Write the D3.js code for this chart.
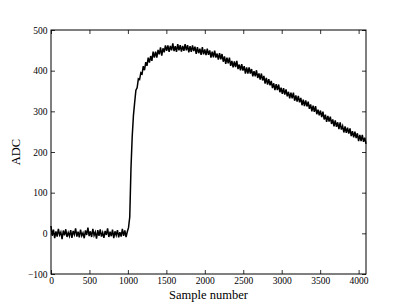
<!DOCTYPE html>
<html>
<head>
<meta charset="utf-8">
<script src="https://cdn.jsdelivr.net/npm/d3@7"></script>
<style>
  body { margin: 0; background: #fff; }
  text { font-family: "Liberation Serif", "DejaVu Serif", serif; }
</style>
</head>
<body>
<svg width="407" height="305"></svg>
<script>
// one value every 16 samples (0 .. 4096)
var sampleStep = 16
var baseline = [18,-6,9,-12,5,-8,11,-4,3,-14,7,-5,10,-9,2,-7,8,-11,6,-3,
  12,-8,4,-10,9,-6,1,-12,7,-4,14,-7,5,-9,11,-5,3,-13,8,-6,
  10,-8,2,-11,6,-4,12,-9,4,-7,9,-12,5,-5,8,-10,3,-8,11,-6,
  7,-9,4,14]
var rise = [40,160,238,290,322,352,358,380,378,395,392]
var plateau = [411,401,421,412,432,420,436,424,447,432,447,432,451,440,457,437,455,445,462,449,
  462,446,461,450,467,448,460,446,465,450,463,447,461,449,465,450,463,445,460,446,
  462,448,459,441,458,443,454,439,458,440,452,438,454,439,450,432,447,433,449,432,
  442,427]
var decay = [443,428,441,422,435,417,432,418,432,412,424,408,423,409,424,404,415,401,416,400,
  411,393,408,393,408,393,404,386,399,386,401,382,393,378,393,376,387,368,382,366,
  379,364,375,357,369,352,367,352,366,347,358,343,357,341,354,337,348,332,346,332,
  346,326,339,324,338,322,333,315,329,313,327,312,324,306,317,300,314,299,313,293,
  304,290,302,286,299,280,292,274,289,275,287,269,280,263,278,262,273,256,273,255,
  264,248,263,247,260,245,258,239,251,236,250,234,246,227,242,227,242,225,235,220]
var xTicks = [0,500,1000,1500,2000,2500,3000,3500,4000]
var yTicks = [-100,0,100,200,300,400,500]

var values = baseline.concat(rise, plateau, decay)
var data = values.map(function(v, i) { return [i*sampleStep, v] })

var svg = d3.select('svg')
var pLeft = 51, pTop = 30, pRight = 366, pBottom = 274

var x = d3.scaleLinear().domain([0, 4096]).range([pLeft, pRight])
var y = d3.scaleLinear().domain([-100, 500]).range([pBottom, pTop])

svg.append('rect').attr('width', 407).attr('height', 305).attr('fill', '#fff')

// the trace
var lineFunc = d3.line()
    .x(function(d) { return x(d[0]) })
    .y(function(d) { return y(d[1]) })
svg.append('path')
    .datum(data)
    .attr('d', lineFunc)
    .attr('fill', 'none')
    .attr('stroke', '#000')
    .attr('stroke-width', 1.5)

function fmt(v) { return v < 0 ? '\u2212' + (-v) : '' + v }

// axes, ticks pointing in, mirrored on top and right
var tl = 4
svg.append('g').attr('transform', 'translate(0,' + pBottom + ')')
    .call(d3.axisBottom(x).tickValues(xTicks).tickSize(-tl).tickPadding(3).tickFormat(fmt))
svg.append('g').attr('transform', 'translate(0,' + pTop + ')')
    .call(d3.axisTop(x).tickValues(xTicks).tickSize(-tl).tickFormat(''))
svg.append('g').attr('transform', 'translate(' + pLeft + ',0)')
    .call(d3.axisLeft(y).tickValues(yTicks).tickSize(-tl).tickPadding(3.5).tickFormat(fmt))
svg.append('g').attr('transform', 'translate(' + pRight + ',0)')
    .call(d3.axisRight(y).tickValues(yTicks).tickSize(-tl).tickFormat(''))

svg.selectAll('.domain').remove()
svg.selectAll('.tick line').attr('stroke', '#000').attr('stroke-width', 0.8)
svg.selectAll('.tick text').attr('fill', '#000').style('font-size', '9.5px')
    .style('font-family', '"Liberation Serif", serif')

svg.append('rect')
    .attr('x', pLeft).attr('y', pTop)
    .attr('width', pRight - pLeft).attr('height', pBottom - pTop)
    .attr('fill', 'none').attr('stroke', '#000').attr('stroke-width', 1)

svg.append('text')
    .attr('x', (pLeft + pRight) / 2).attr('y', 299)
    .attr('text-anchor', 'middle')
    .style('font-size', '12.5px')
    .text('Sample number')
svg.append('text')
    .attr('transform', 'translate(20,' + (pTop + pBottom) / 2 + ') rotate(-90)')
    .attr('text-anchor', 'middle')
    .style('font-size', '12.5px')
    .text('ADC')
</script>
</body>
</html>
